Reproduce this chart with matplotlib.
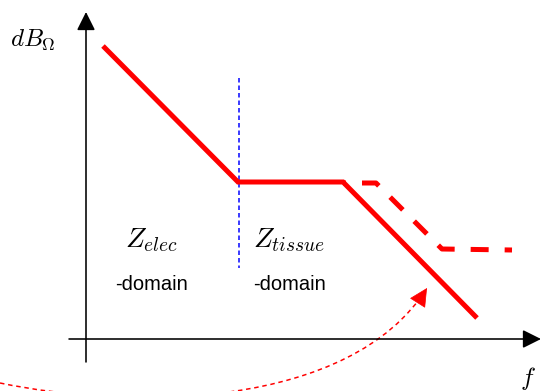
import numpy as np
import matplotlib
matplotlib.use('Agg')
import matplotlib.pyplot as plt
from matplotlib.path import Path
from matplotlib.patches import PathPatch, FancyArrowPatch

plt.rcParams['mathtext.fontset'] = 'cm'

# Bode-like magnitude sketch, in canvas units (x right, y down)
solid_f = [103, 238, 343, 477]
solid_db = [46, 182, 182, 318]

shifted_f = [343, 376, 442, 512]
shifted_db = [183, 183, 249, 250]

boundary_f = [239, 239]
boundary_db = [78, 268]

# curved hint arrow: cubic bezier control points
hint_f = [0, 130, 350, 427]
hint_db = [383, 410, 410, 288]

W, H = 543, 391
PX = 0.72  # points per pixel at dpi 100

fig = plt.figure(figsize=(W / 100, H / 100), dpi=100)
ax = fig.add_axes([0, 0, 1, 1])
ax.set_xlim(0, W)
ax.set_ylim(H, 0)
ax.axis('off')

# axes with arrow heads
axis_arrow = dict(arrowstyle='-|>,head_length=0.8,head_width=0.4',
                  color='black', lw=1.6 * PX, shrinkA=0, shrinkB=0,
                  mutation_scale=14)
ax.annotate('', xy=(86, 12), xytext=(86, 362), arrowprops=axis_arrow)
ax.annotate('', xy=(541, 339), xytext=(69, 339), arrowprops=axis_arrow)

# domain boundary
ax.plot(boundary_f, boundary_db, color='blue', lw=1.5 * PX,
        linestyle=(0, (3, 2)))

# measured magnitude
ax.plot(solid_f, solid_db, color='red', lw=5 * PX, solid_capstyle='butt',
        solid_joinstyle='miter')
# shifted magnitude
ax.plot(shifted_f, shifted_db, color='red', lw=5 * PX,
        linestyle=(3.0, (3.6, 3.2)), dash_capstyle='butt')

# curved dashed arrow
verts = list(zip(hint_f, hint_db))
curve = Path(verts, [Path.MOVETO, Path.CURVE4, Path.CURVE4, Path.CURVE4])
ax.add_patch(PathPatch(curve, fill=False, edgecolor='red', lw=1.5 * PX,
                       linestyle=(0, (3, 2.5))))
tip = np.array(verts[-1], dtype=float)
d = tip - np.array(verts[-2], dtype=float)
d /= np.hypot(*d)
ax.add_patch(FancyArrowPatch(tuple(tip - 12 * d), tuple(tip),
                             arrowstyle='-|>,head_length=0.8,head_width=0.4',
                             mutation_scale=15, color='red', lw=0.5,
                             shrinkA=0, shrinkB=0))

# labels
ax.text(33, 40, r'$dB_\Omega$', fontsize=18, ha='center', va='center')
ax.text(528, 378, r'$f$', fontsize=18, ha='center', va='center')
ax.text(152, 240, r'$Z_{elec}$', fontsize=20, ha='center', va='center')
ax.text(289, 240, r'$Z_{tissue}$', fontsize=20, ha='center', va='center')
ax.text(152, 285, '-domain', fontsize=14.5, family='Liberation Sans',
        ha='center', va='center')
ax.text(290, 285, '-domain', fontsize=14.5, family='Liberation Sans',
        ha='center', va='center')

fig.savefig('out.png', dpi=100)
